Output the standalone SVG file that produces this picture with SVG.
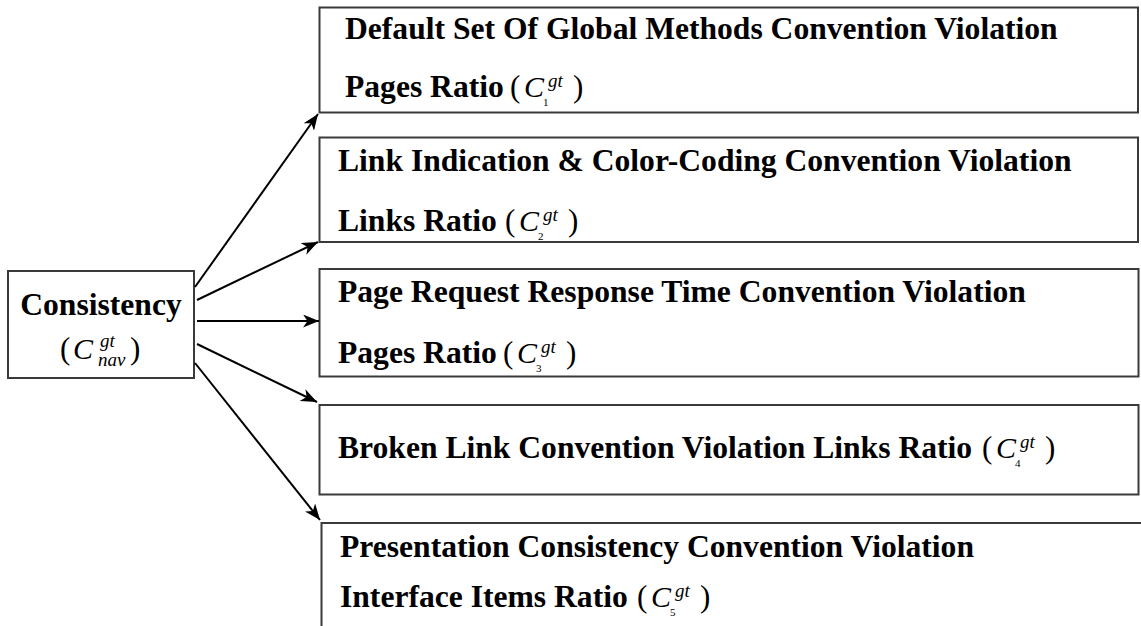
<svg xmlns="http://www.w3.org/2000/svg" width="1141" height="626" viewBox="0 0 1141 626">
  <style>
    .box { fill: #ffffff; stroke: #3a3a3a; stroke-width: 2; }
    .lbl { font-family: "Liberation Serif", "Times New Roman", serif; font-weight: bold; font-size: 31.6px; fill: #000; }
    .par { font-family: "Liberation Serif", "Times New Roman", serif; font-size: 31px; fill: #000; }
    .sym { font-family: "Liberation Serif", "Times New Roman", serif; font-style: italic; font-size: 30px; fill: #000; }
    .sup { font-family: "Liberation Serif", "Times New Roman", serif; font-style: italic; font-size: 19px; fill: #000; }
    .sub { font-family: "Liberation Serif", "Times New Roman", serif; font-size: 11px; fill: #000; }
    .edge { stroke: #000; stroke-width: 2; fill: none; marker-end: url(#head); }
  </style>
  <defs>
    <marker id="head" markerUnits="userSpaceOnUse" markerWidth="17" markerHeight="13" refX="16" refY="6.5" orient="auto">
      <path d="M0,0 L16,6.5 L0,13 L4.5,6.5 Z" fill="#000"/>
    </marker>
  </defs>

  <rect width="1141" height="626" fill="#ffffff"/>

  <!-- root node -->
  <g id="consistency">
    <rect class="box" x="8" y="271" width="186" height="107"/>
    <text class="lbl" x="101" y="315" text-anchor="middle" font-size="32">Consistency</text>
    <text class="par" x="60" y="359" font-size="32">(</text>
    <text class="sym" x="73" y="359" font-size="32">C</text>
    <text class="sup" x="100" y="347">gt</text>
    <text class="sup" x="98" y="366">nav</text>
    <text class="par" x="130" y="359" font-size="32">)</text>
  </g>

  <!-- C1 -->
  <g id="c1">
    <rect class="box" x="319.5" y="7.5" width="818.5" height="105"/>
    <text class="lbl" x="345" y="39">Default Set Of Global Methods Convention Violation</text>
    <text class="lbl" x="345" y="97">Pages Ratio</text>
    <g transform="translate(510,97)">
      <text class="par" x="0" y="0">(</text>
      <text class="sym" x="14" y="0">C</text>
      <text class="sup" x="38" y="-10">gt</text>
      <text class="sub" x="33" y="9">1</text>
      <text class="par" x="63" y="0">)</text>
    </g>
  </g>

  <!-- C2 -->
  <g id="c2">
    <rect class="box" x="319.5" y="137.5" width="818.5" height="104.5"/>
    <text class="lbl" x="338" y="171">Link Indication &amp; Color-Coding Convention Violation</text>
    <text class="lbl" x="338" y="231">Links Ratio</text>
    <g transform="translate(505,231)">
      <text class="par" x="0" y="0">(</text>
      <text class="sym" x="14" y="0">C</text>
      <text class="sup" x="38" y="-10">gt</text>
      <text class="sub" x="33" y="9">2</text>
      <text class="par" x="63" y="0">)</text>
    </g>
  </g>

  <!-- C3 -->
  <g id="c3">
    <rect class="box" x="319.5" y="269" width="819" height="107.5"/>
    <text class="lbl" x="338" y="302">Page Request Response Time Convention Violation</text>
    <text class="lbl" x="338" y="363">Pages Ratio</text>
    <g transform="translate(503,363)">
      <text class="par" x="0" y="0">(</text>
      <text class="sym" x="14" y="0">C</text>
      <text class="sup" x="38" y="-10">gt</text>
      <text class="sub" x="33" y="9">3</text>
      <text class="par" x="63" y="0">)</text>
    </g>
  </g>

  <!-- C4 -->
  <g id="c4">
    <rect class="box" x="319.5" y="405" width="819" height="89.5"/>
    <text class="lbl" x="338" y="458">Broken Link Convention Violation Links Ratio</text>
    <g transform="translate(982,458)">
      <text class="par" x="0" y="0">(</text>
      <text class="sym" x="14" y="0">C</text>
      <text class="sup" x="38" y="-10">gt</text>
      <text class="sub" x="33" y="9">4</text>
      <text class="par" x="63" y="0">)</text>
    </g>
  </g>

  <!-- C5 -->
  <g id="c5">
    <rect class="box" x="321.5" y="523" width="830" height="130"/>
    <text class="lbl" x="340" y="557">Presentation Consistency Convention Violation</text>
    <text class="lbl" x="340" y="607">Interface Items Ratio</text>
    <g transform="translate(637,607)">
      <text class="par" x="0" y="0">(</text>
      <text class="sym" x="14" y="0">C</text>
      <text class="sup" x="38" y="-10">gt</text>
      <text class="sub" x="33" y="9">5</text>
      <text class="par" x="63" y="0">)</text>
    </g>
  </g>

  <!-- connectors -->
  <g id="connectors">
    <line class="edge" x1="195" y1="287" x2="318" y2="114"/>
    <line class="edge" x1="197" y1="300" x2="318" y2="242"/>
    <line class="edge" x1="197" y1="321" x2="319" y2="321"/>
    <line class="edge" x1="197" y1="344" x2="317" y2="402"/>
    <line class="edge" x1="195" y1="363" x2="320" y2="520"/>
  </g>
</svg>
